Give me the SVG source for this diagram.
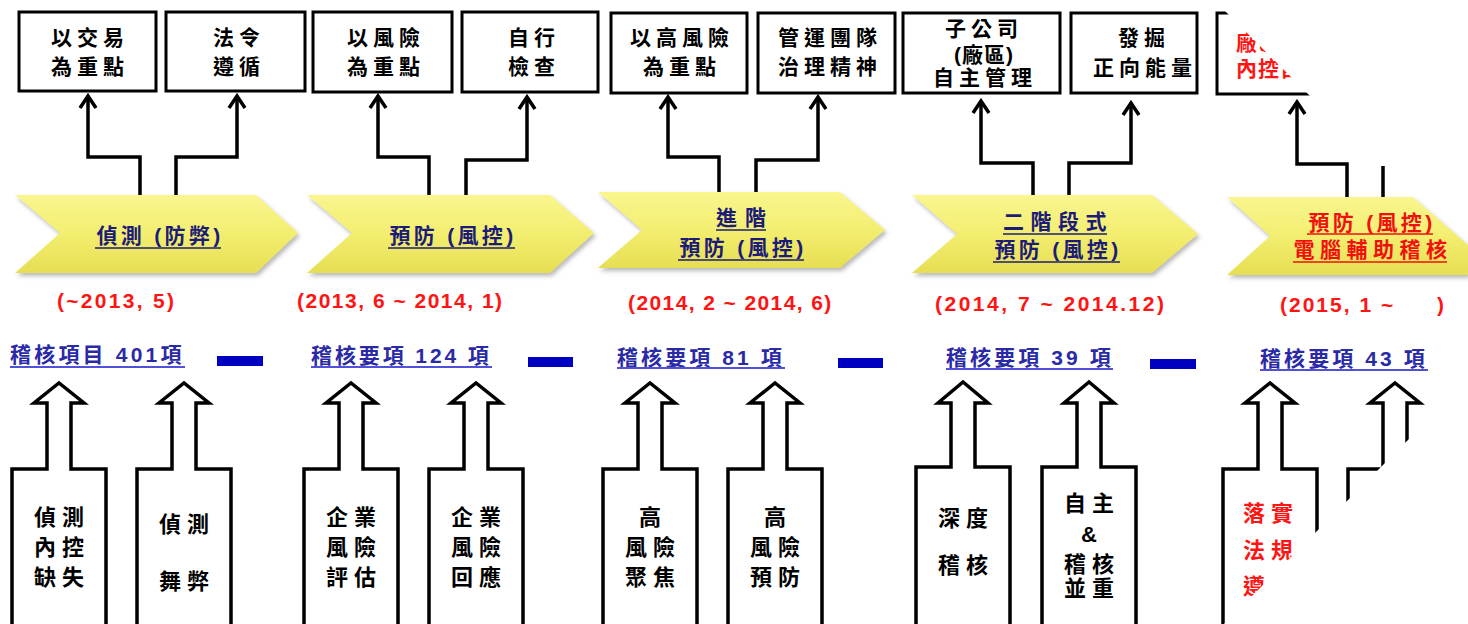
<svg xmlns="http://www.w3.org/2000/svg" width="1468" height="624" viewBox="0 0 1468 624">
<defs>
<linearGradient id="yg" x1="0" y1="0" x2="0" y2="1">
<stop offset="0" stop-color="#f9f68e"/>
<stop offset="0.5" stop-color="#f3ee70"/>
<stop offset="1" stop-color="#e6de52"/>
</linearGradient>
<filter id="sh" x="-5%" y="-10%" width="115%" height="130%">
<feDropShadow dx="2" dy="3" stdDeviation="2" flood-color="#8a8a8a" flood-opacity="0.6"/>
</filter>
<marker id="ah" markerUnits="userSpaceOnUse" viewBox="-15 -11 18 22" refX="0" refY="0" markerWidth="18" markerHeight="22" orient="auto">
<path d="M-12,-8 L0,0 L-12,8" fill="none" stroke="#000" stroke-width="3.5" stroke-linejoin="miter"/>
</marker>
</defs>
<style>
text{font-family:"Liberation Sans","Noto Sans CJK TC",sans-serif;font-weight:bold}
.box{fill:#fff;stroke:#000;stroke-width:3}
.bt{font-size:21px;letter-spacing:5px;text-anchor:middle;fill:#000}
.cv{fill:url(#yg);filter:url(#sh)}
.ct{font-size:21px;text-anchor:middle;fill:#1c1c78}
.ct5{font-size:21px;text-anchor:middle;fill:#f01010}
.ul{stroke:#1c1c78;stroke-width:1.6}
.ul5{stroke:#f01010;stroke-width:1.6}
.dt{font-size:21px;fill:#ff1414}
.cnt{font-size:21px;letter-spacing:3.2px;fill:#2a2aa6}
.cul{stroke:#5050d8;stroke-width:1.8}
.dash{fill:#0000c0}
.ar{fill:#fff;stroke:#000;stroke-width:3.5}
.at{font-size:22px;letter-spacing:6px;text-anchor:middle;fill:#000}
.atr{font-size:22px;letter-spacing:6px;text-anchor:middle;fill:#ff1414}
.con path{fill:none;stroke:#000;stroke-width:3.5;marker-end:url(#ah)}
</style>

<!-- top boxes -->
<g id="top1"><rect class="box" x="19" y="12" width="137" height="79"/><text class="bt" x="90" y="45">以交易</text><text class="bt" x="90" y="74">為重點</text></g>
<g id="top2"><rect class="box" x="166" y="12" width="139" height="79"/><text class="bt" x="239" y="45">法令</text><text class="bt" x="239" y="74">遵循</text></g>
<g id="top3"><rect class="box" x="313" y="12" width="139" height="80"/><text class="bt" x="386" y="45">以風險</text><text class="bt" x="386" y="74">為重點</text></g>
<g id="top4"><rect class="box" x="462" y="12" width="136" height="80"/><text class="bt" x="534" y="45">自行</text><text class="bt" x="534" y="74">檢查</text></g>
<g id="top5"><rect class="box" x="611" y="13" width="136" height="80"/><text class="bt" x="682" y="45">以高風險</text><text class="bt" x="682" y="74">為重點</text></g>
<g id="top6"><rect class="box" x="758" y="13" width="137" height="80"/><text class="bt" x="830" y="45">管運團隊</text><text class="bt" x="830" y="74">治理精神</text></g>
<g id="top7"><rect class="box" x="903" y="13" width="157" height="80"/><text class="bt" x="984" y="36">子公司</text><text class="bt" x="984" y="62" style="letter-spacing:1px">(廠區)</text><text class="bt" x="985" y="85">自主管理</text></g>
<g id="top8"><rect class="box" x="1071" y="13" width="126" height="80"/><text class="bt" x="1144" y="45">發掘</text><text class="bt" x="1145" y="75">正向能量</text></g>
<g id="top9"><rect class="box" x="1217" y="13" width="150" height="81"/><text x="1236" y="50" style="font-size:21px;letter-spacing:1px;fill:#ff1414">廠區</text><text x="1236" y="76" style="font-size:21px;letter-spacing:1px;fill:#ff1414">內控自主</text></g>

<!-- connectors -->
<g id="connectors" class="con">
<path d="M140,196 V157 H88 V96"/>
<path d="M176,196 V157 H237 V96"/>
<path d="M429,196 V157 H378 V96"/>
<path d="M466,196 V160 H527 V97"/>
<path d="M719,193 V157 H668 V97"/>
<path d="M756,193 V160 H818 V97"/>
<path d="M1033,196 V163 H981 V101"/>
<path d="M1069,196 V163 H1131 V103"/>
<path d="M1347,198 V164 H1297 V102"/>
<path d="M1383,198 V164 H1430 V102"/>
</g>

<!-- chevrons -->
<g id="stage1"><polygon class="cv" points="15,195 256,195 298,233 256,273 15,273 60,233"/>
<text class="ct" x="160" y="243" style="letter-spacing:3.3px">偵測 (防弊)</text><line class="ul" x1="95" y1="248" x2="221" y2="248"/></g>
<g id="stage2"><polygon class="cv" points="307,195 550,195 594,233 550,273 307,273 352,233"/>
<text class="ct" x="453" y="243" style="letter-spacing:3.3px">預防 (風控)</text><line class="ul" x1="388" y1="248" x2="515" y2="248"/></g>
<g id="stage3"><polygon class="cv" points="598,192 840,192 885,230 840,268 598,268 642,230"/>
<text class="ct" x="745" y="225" style="letter-spacing:8px">進階</text><line class="ul" x1="716" y1="230" x2="766" y2="230"/>
<text class="ct" x="743" y="255" style="letter-spacing:3.3px">預防 (風控)</text><line class="ul" x1="678" y1="260" x2="804" y2="260"/></g>
<g id="stage4"><polygon class="cv" points="912,195 1152,195 1198,234 1152,273 912,273 957,234"/>
<text class="ct" x="1058" y="229" style="letter-spacing:6.5px">二階段式</text><line class="ul" x1="1003" y1="234" x2="1107" y2="234"/>
<text class="ct" x="1058" y="257" style="letter-spacing:3.3px">預防 (風控)</text><line class="ul" x1="993" y1="262" x2="1120" y2="262"/></g>
<g id="stage5"><polygon class="cv" points="1227,197 1413,197 1468,245 1468,275 1227,275 1270,236"/>
<text class="ct5" x="1372" y="230" style="letter-spacing:3.3px">預防 (風控)</text><line class="ul5" x1="1307" y1="234" x2="1433" y2="234"/>
<text class="ct5" x="1373" y="257" style="letter-spacing:5.5px">電腦輔助稽核</text><line class="ul5" x1="1293" y1="262" x2="1447" y2="262"/></g>

<!-- dates -->
<g id="dates">
<text class="dt" x="57" y="308" style="letter-spacing:2.3px">(~2013, 5)</text>
<text class="dt" x="297" y="308" style="letter-spacing:1.5px">(2013, 6 ~ 2014, 1)</text>
<text class="dt" x="628" y="310" style="letter-spacing:1.4px">(2014, 2 ~ 2014, 6)</text>
<text class="dt" x="935" y="311" style="letter-spacing:2.5px">(2014, 7 ~ 2014.12)</text>
<text class="dt" x="1280" y="312" style="letter-spacing:2px">(2015, 1 ~</text>
<text class="dt" x="1437" y="312">)</text>
</g>

<!-- counts -->
<g id="counts">
<text class="cnt" x="10" y="362">稽核項目 401項</text><line class="cul" x1="10" y1="367" x2="185" y2="367"/>
<text class="cnt" x="311" y="363" style="letter-spacing:2.9px">稽核要項 124 項</text><line class="cul" x1="311" y1="367" x2="492" y2="367"/>
<text class="cnt" x="617" y="365" style="letter-spacing:3.1px">稽核要項 81 項</text><line class="cul" x1="617" y1="368" x2="785" y2="368"/>
<text class="cnt" x="946" y="365" style="letter-spacing:3.1px">稽核要項 39 項</text><line class="cul" x1="946" y1="369" x2="1113" y2="369"/>
<text class="cnt" x="1260" y="366" style="letter-spacing:3.1px">稽核要項 43 項</text><line class="cul" x1="1260" y1="370" x2="1428" y2="370"/>
<rect class="dash" x="217" y="356" width="46" height="10"/>
<rect class="dash" x="528" y="357" width="45" height="10"/>
<rect class="dash" x="838" y="358" width="45" height="10"/>
<rect class="dash" x="1150" y="359" width="46" height="10"/>
</g>

<!-- bottom arrows -->
<g id="in1"><polygon class="ar" points="12,630 12,469 47,469 47,403 34,403 59,383 84,403 71,403 71,469 106,469 106,630"/>
<text class="at" x="62" y="525">偵測</text><text class="at" x="62" y="555">內控</text><text class="at" x="62" y="585">缺失</text></g>
<g id="in2"><polygon class="ar" points="137,630 137,469 172,469 172,403 159,403 184,383 209,403 196,403 196,469 231,469 231,630"/>
<text class="at" x="187" y="532">偵測</text><text class="at" x="187" y="589">舞弊</text></g>
<g id="in3"><polygon class="ar" points="304,630 304,469 339,469 339,403 326,403 351,383 376,403 363,403 363,469 398,469 398,630"/>
<text class="at" x="354" y="525">企業</text><text class="at" x="354" y="555">風險</text><text class="at" x="354" y="585">評估</text></g>
<g id="in4"><polygon class="ar" points="429,630 429,469 464,469 464,403 451,403 476,383 501,403 488,403 488,469 523,469 523,630"/>
<text class="at" x="479" y="525">企業</text><text class="at" x="479" y="555">風險</text><text class="at" x="479" y="585">回應</text></g>
<g id="in5"><polygon class="ar" points="603,630 603,469 638,469 638,403 625,403 650,383 675,403 662,403 662,469 697,469 697,630"/>
<text class="at" x="653" y="525">高</text><text class="at" x="653" y="555">風險</text><text class="at" x="653" y="585">聚焦</text></g>
<g id="in6"><polygon class="ar" points="728,630 728,469 763,469 763,403 750,403 775,383 800,403 787,403 787,469 822,469 822,630"/>
<text class="at" x="778" y="525">高</text><text class="at" x="778" y="555">風險</text><text class="at" x="778" y="585">預防</text></g>
<g id="in7"><polygon class="ar" points="916,630 916,467 951,467 951,403 938,403 963,382 988,403 975,403 975,467 1010,467 1010,630"/>
<text class="at" x="966" y="526">深度</text><text class="at" x="966" y="573">稽核</text></g>
<g id="in8"><polygon class="ar" points="1042,630 1042,467 1077,467 1077,403 1064,403 1089,382 1114,403 1101,403 1101,467 1136,467 1136,630"/>
<text class="at" x="1092" y="511">自主</text><text class="at" x="1089" y="542" style="letter-spacing:0">&amp;</text><text class="at" x="1092" y="572">稽核</text><text class="at" x="1092" y="596">並重</text></g>
<g id="in9"><polygon class="ar" points="1223,630 1223,469 1258,469 1258,403 1245,403 1270,383 1295,403 1282,403 1282,469 1317,469 1317,630"/>
<text class="atr" x="1271" y="521">落實</text><text class="atr" x="1271" y="558">法規</text><text class="atr" x="1271" y="594">遵循</text></g>
<g id="in10"><polygon class="ar" points="1348,630 1348,469 1383,469 1383,403 1370,403 1395,383 1420,403 1407,403 1407,469 1442,469 1442,630"/></g>

<!-- white torn-off corners of the source picture -->
<g id="mask">
<polygon points="1214,0 1468,0 1468,166 1380,166" fill="#fff"/>
<polygon points="1468,380 1468,624 1224,624" fill="#fff"/>
</g>
</svg>
